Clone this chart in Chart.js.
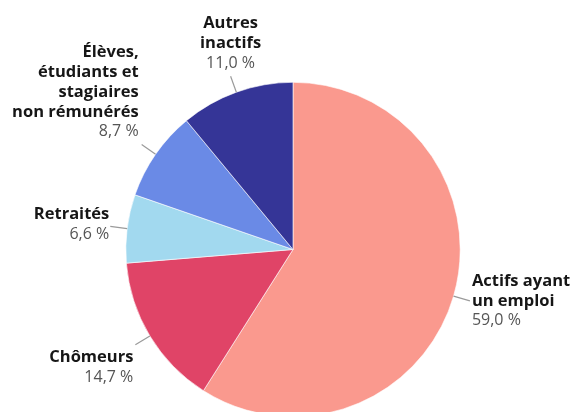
<!DOCTYPE html>
<html>
<head>
<meta charset="utf-8">
<script src="https://cdn.jsdelivr.net/npm/chart.js@4/dist/chart.umd.min.js"></script>
<style>
html,body{margin:0;padding:0;background:#fff;overflow:hidden;}
#wrap{width:576px;height:412px;overflow:hidden;position:relative;}
canvas{display:block;}
</style>
</head>
<body>
<div id="wrap"><canvas id="c" width="576" height="500"></canvas></div>
<script>
const categories = [
  ["Actifs ayant", "un emploi"],
  ["Chômeurs"],
  ["Retraités"],
  ["Élèves,", "étudiants et", "stagiaires", "non rémunérés"],
  ["Autres", "inactifs"]
];
const values = [59.0, 14.7, 6.6, 8.7, 11.0];
const valueLabels = ["59,0 %", "14,7 %", "6,6 %", "8,7 %", "11,0 %"];
const colors = ["#FA998E", "#E04467", "#A2D9EF", "#6A8AE6", "#353597"];

// label placement styles: mode relative to leader-line end
const labelStyle = [
  {mode: "right", dx: 2, dy: 2},
  {mode: "leftBelow", dx: -2, dy: 3},
  {mode: "leftMid", dx: -1, dy: -2},
  {mode: "leftAbove", dx: -3, dy: -3},
  {mode: "above", dx: 0, dy: -13}
];

const labelPlugin = {
  id: "pieLabels",
  afterDatasetsDraw(chart) {
    const ctx = chart.ctx;
    const meta = chart.getDatasetMeta(0);
    const lh = 19.8;
    meta.data.forEach((arc, i) => {
      const p = arc.getProps(["x","y","startAngle","endAngle","outerRadius"], true);
      const mid = (p.startAngle + p.endAngle) / 2;
      const cx = Math.cos(mid), cy = Math.sin(mid);
      const r0 = p.outerRadius, r1 = p.outerRadius + 17;
      const x0 = p.x + cx * r0, y0 = p.y + cy * r0;
      const x1 = p.x + cx * r1, y1 = p.y + cy * r1;
      ctx.save();
      ctx.strokeStyle = "#9a9a9a";
      ctx.lineWidth = 1.2;
      ctx.beginPath();
      ctx.moveTo(x0, y0);
      ctx.lineTo(x1, y1);
      ctx.stroke();

      const lines = categories[i].map(t => ({t, bold: true})).concat([{t: valueLabels[i], bold: false}]);
      const n = lines.length;
      const st = labelStyle[i];
      let ax = x1 + st.dx, ay = y1 + st.dy;
      let align, firstY;
      if (st.mode === "right") {
        align = "left";
        firstY = ay - lh * 1.1;
      } else if (st.mode === "leftBelow") {
        align = "right";
        firstY = ay + lh * 0.5;
      } else if (st.mode === "leftMid") {
        align = "right";
        firstY = ay - lh * (n - 1) / 2;
      } else if (st.mode === "leftAbove") {
        align = "right";
        firstY = ay - lh * (n - 1) - lh * 0.5;
      } else {
        align = "center";
        firstY = ay - lh * (n - 1);
      }
      ctx.textAlign = align;
      ctx.textBaseline = "middle";
      lines.forEach((ln, k) => {
        ctx.font = ln.bold ? "bold 16.5px 'Open Sans'" : "16px 'Open Sans'";
        ctx.fillStyle = ln.bold ? "#161616" : "#555555";
        ctx.fillText(ln.t, ax, firstY + k * lh);
      });
      ctx.restore();
    });
  }
};

new Chart(document.getElementById("c"), {
  type: "pie",
  data: {
    labels: categories.map(c => c.join(" ")),
    datasets: [{
      data: values,
      backgroundColor: colors,
      borderColor: "#ffffff",
      borderWidth: 0.6
    }]
  },
  options: {
    responsive: false,
    animation: false,
    layout: {padding: {left: 125.5, right: 115.5, top: 82, bottom: 83}},
    plugins: {legend: {display: false}, tooltip: {enabled: false}}
  },
  plugins: [labelPlugin]
});
</script>
</body>
</html>
